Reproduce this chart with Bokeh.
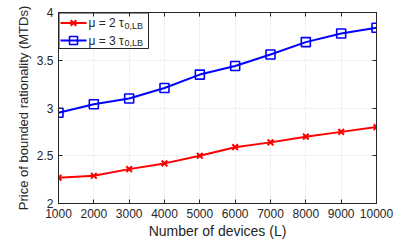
from bokeh.plotting import figure
from bokeh.models import (Range1d, LinearAxis, Label, FixedTicker,
                          CustomJSTickFormatter)
from bokeh.embed import file_html
from bokeh.resources import INLINE

devices = [1000, 2000, 3000, 4000, 5000, 6000, 7000, 8000, 9000, 10000]
mu2 = [2.27, 2.29, 2.36, 2.42, 2.50, 2.59, 2.64, 2.70, 2.75, 2.80]
mu3 = [2.95, 3.04, 3.10, 3.21, 3.35, 3.44, 3.56, 3.69, 3.78, 3.84]
x_ticks = devices
y_ticks = [2, 2.5, 3, 3.5, 4]
labels = ["\u03bc = 2 \u03c4", "\u03bc = 3 \u03c4"]
sub = "0,LB"

FONT = "Liberation Sans"
INK = "#262626"

W, H = 401, 241
L, T, R, B = 58, 12, 25, 38
FH = H - T - B
FW = W - L - R
X0, X1, Y0, Y1 = 1000, 10000, 2, 4


def sx(px):  # pixel offset from frame left -> data x
    return X0 + px * (X1 - X0) / FW


def sy(px):  # pixel offset from frame top -> data y
    return Y1 - px * (Y1 - Y0) / FH


p = figure(width=W, height=H, output_backend="svg", toolbar_location=None,
           x_range=Range1d(X0, X1), y_range=Range1d(Y0, Y1),
           min_border_left=L, min_border_right=R, min_border_top=T,
           min_border_bottom=B)
p.outline_line_color = INK
p.outline_line_width = 1

for ax in (p.xaxis[0], p.yaxis[0]):
    ax.major_tick_in = 4
    ax.major_tick_out = 0
    ax.minor_tick_in = 0
    ax.minor_tick_out = 0
    ax.axis_line_color = INK
    ax.major_tick_line_color = INK
    ax.major_label_text_font = FONT
    ax.major_label_text_font_size = "12px"
    ax.major_label_text_color = INK
    ax.axis_label_text_font = FONT
    ax.axis_label_text_font_size = "13px"
    ax.axis_label_text_font_style = "normal"
    ax.axis_label_text_color = INK

p.xaxis.axis_label_text_font_size = "14px"
p.xaxis.ticker = FixedTicker(ticks=x_ticks)
p.yaxis.ticker = FixedTicker(ticks=y_ticks)
p.xaxis.major_label_standoff = 5
p.yaxis.major_label_standoff = 5
p.xaxis.axis_label = "Number of devices (L)"
p.yaxis.axis_label = "Price of bounded rationality (MTDs)"
p.xaxis.axis_label_standoff = 2
p.yaxis.axis_label_standoff = 3

for loc, tk in (("right", y_ticks), ("above", x_ticks)):
    ax = LinearAxis(ticker=FixedTicker(ticks=tk),
                    formatter=CustomJSTickFormatter(code="return ''"),
                    major_tick_in=4, major_tick_out=0, minor_tick_in=0, minor_tick_out=0,
                    axis_line_color=INK, major_tick_line_color=INK,
                    major_label_standoff=0)
    p.add_layout(ax, loc)

p.grid.grid_line_color = "#d4d4d4"
p.grid.grid_line_dash = "1 2"
p.xgrid.ticker = FixedTicker(ticks=x_ticks)
p.ygrid.ticker = FixedTicker(ticks=y_ticks)

p.line(devices, mu2, line_color="red", line_width=2)
p.scatter(devices, mu2, marker="x", size=8, line_color="red", line_width=2)
p.line(devices, mu3, line_color="blue", line_width=2)
p.scatter(devices, mu3, marker="square", size=9, line_color="blue",
          fill_color=None, line_width=1.6)

# ---- legend, drawn by hand in the top-left corner of the frame ----
bx0, bx1, by0, by1 = 0.5, 90, 0.5, 36
p.quad(left=[sx(bx0)], right=[sx(bx1)], top=[sy(by0)], bottom=[sy(by1)],
       fill_color="white", fill_alpha=1, line_color=None)
p.line([sx(bx0), sx(bx1), sx(bx1), sx(bx0), sx(bx0)],
       [sy(by0), sy(by0), sy(by1), sy(by1), sy(by0)],
       line_color=INK, line_width=1)

rows = [10.5, 28]
styles = [dict(color="red", marker="x", size=8, fill=None, lw=2),
          dict(color="blue", marker="square", size=8, fill=None, lw=1.6)]
for ry, st, lab in zip(rows, styles, labels):
    p.line([sx(2), sx(28)], [sy(ry), sy(ry)], line_color=st["color"], line_width=2)
    p.scatter([sx(15)], [sy(ry)], marker=st["marker"], size=st["size"],
              line_color=st["color"], fill_color=st["fill"], line_width=st["lw"])
    p.add_layout(Label(x=30, y=FH - ry, x_units="screen", y_units="screen",
                       text=lab, text_font=FONT, text_font_size="12px",
                       text_color=INK, text_baseline="middle"))
    p.add_layout(Label(x=66, y=FH - ry - 7.5, x_units="screen", y_units="screen",
                       text=sub, text_font=FONT, text_font_size="9px",
                       text_color=INK, text_baseline="bottom"))

open("out.html", "w").write(file_html(p, INLINE))
